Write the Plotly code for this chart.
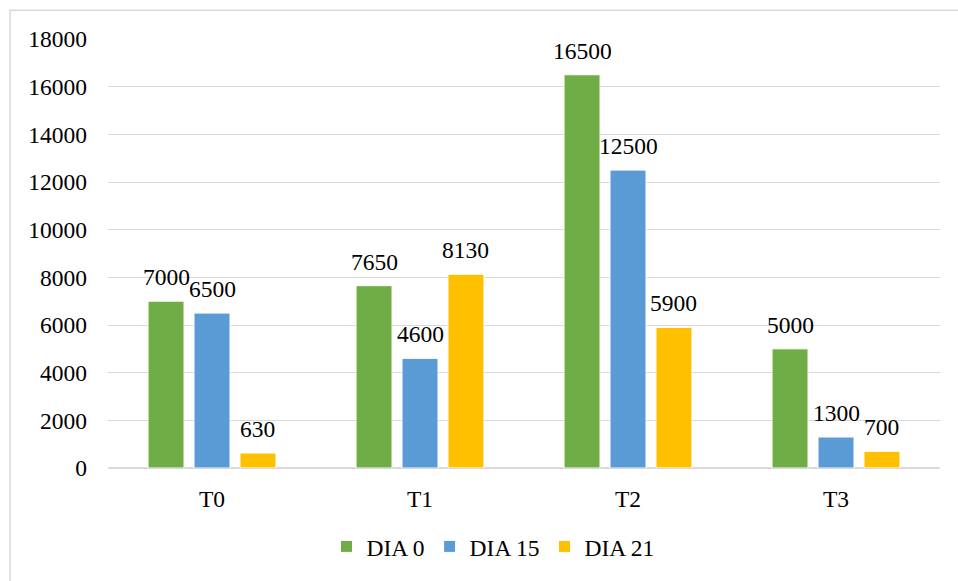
import plotly.graph_objects as go

categories = ["T0", "T1", "T2", "T3"]
series_names = ["DIA 0", "DIA 15", "DIA 21"]
dia0 = [7000, 7650, 16500, 5000]
dia15 = [6500, 4600, 12500, 1300]
dia21 = [630, 8130, 5900, 700]
colors = ["#70AD47", "#5B9BD5", "#FFC000"]
y_ticks = list(range(0, 18001, 2000))

W, H = 958, 581
L, R, T, B = 108, 18, 39, 111
plot_w = W - L - R
plot_h = H - T - B

FONT = "Times New Roman, Liberation Serif, DejaVu Serif, serif"
FS = 23.5

bargap = 0.337
bargroupgap = 0.217

fig = go.Figure()
all_series = [dia0, dia15, dia21]
for name, vals, col in zip(series_names, all_series, colors):
    fig.add_trace(go.Bar(
        x=categories, y=vals, name=name,
        marker=dict(color=col, line=dict(color="white", width=1)),
    ))

# value labels above bars
cat_w = plot_w / len(categories)
slot = (1 - bargap) * cat_w / len(all_series)
for si, vals in enumerate(all_series):
    offset = (si - (len(all_series) - 1) / 2) * slot
    for c, v in zip(categories, vals):
        fig.add_annotation(
            x=c, y=v, text=str(v), showarrow=False,
            xshift=offset, yshift=9, yanchor="bottom",
            font=dict(family=FONT, size=FS, color="black"),
        )

# outer border
fig.add_shape(
    type="rect", xref="paper", yref="paper",
    x0=(10 - L) / plot_w, x1=1.2,
    y0=-(B + 60) / plot_h, y1=1 + (T - 10) / plot_h,
    line=dict(color="#D9D9D9", width=1.5), layer="below",
)

fig.update_layout(
    width=W, height=H,
    margin=dict(l=L, r=R, t=T, b=B, pad=0),
    paper_bgcolor="white", plot_bgcolor="white",
    barmode="group", bargap=bargap, bargroupgap=bargroupgap,
    font=dict(family=FONT, size=FS, color="black"),
    showlegend=True,
    legend=dict(
        orientation="h", x=(493 - L) / plot_w, xanchor="center",
        y=-(549 - 470) / plot_h, yanchor="middle",
        font=dict(family=FONT, size=FS, color="black"),
        itemwidth=30, traceorder="normal",
    ),
    xaxis=dict(
        showgrid=False, showline=False, zeroline=False,
        ticks="", ticklabelstandoff=14,
        tickfont=dict(family=FONT, size=FS, color="black"),
    ),
    yaxis=dict(
        range=[0, 18000], tickvals=y_ticks, tickformat="d",
        showgrid=True, gridcolor="#D9D9D9", gridwidth=1.3,
        zeroline=True, zerolinecolor="#D9D9D9", zerolinewidth=1.5,
        showline=False, ticks="", ticklabelstandoff=20,
        tickfont=dict(family=FONT, size=FS, color="black"),
    ),
)

fig.write_html("out.html")
